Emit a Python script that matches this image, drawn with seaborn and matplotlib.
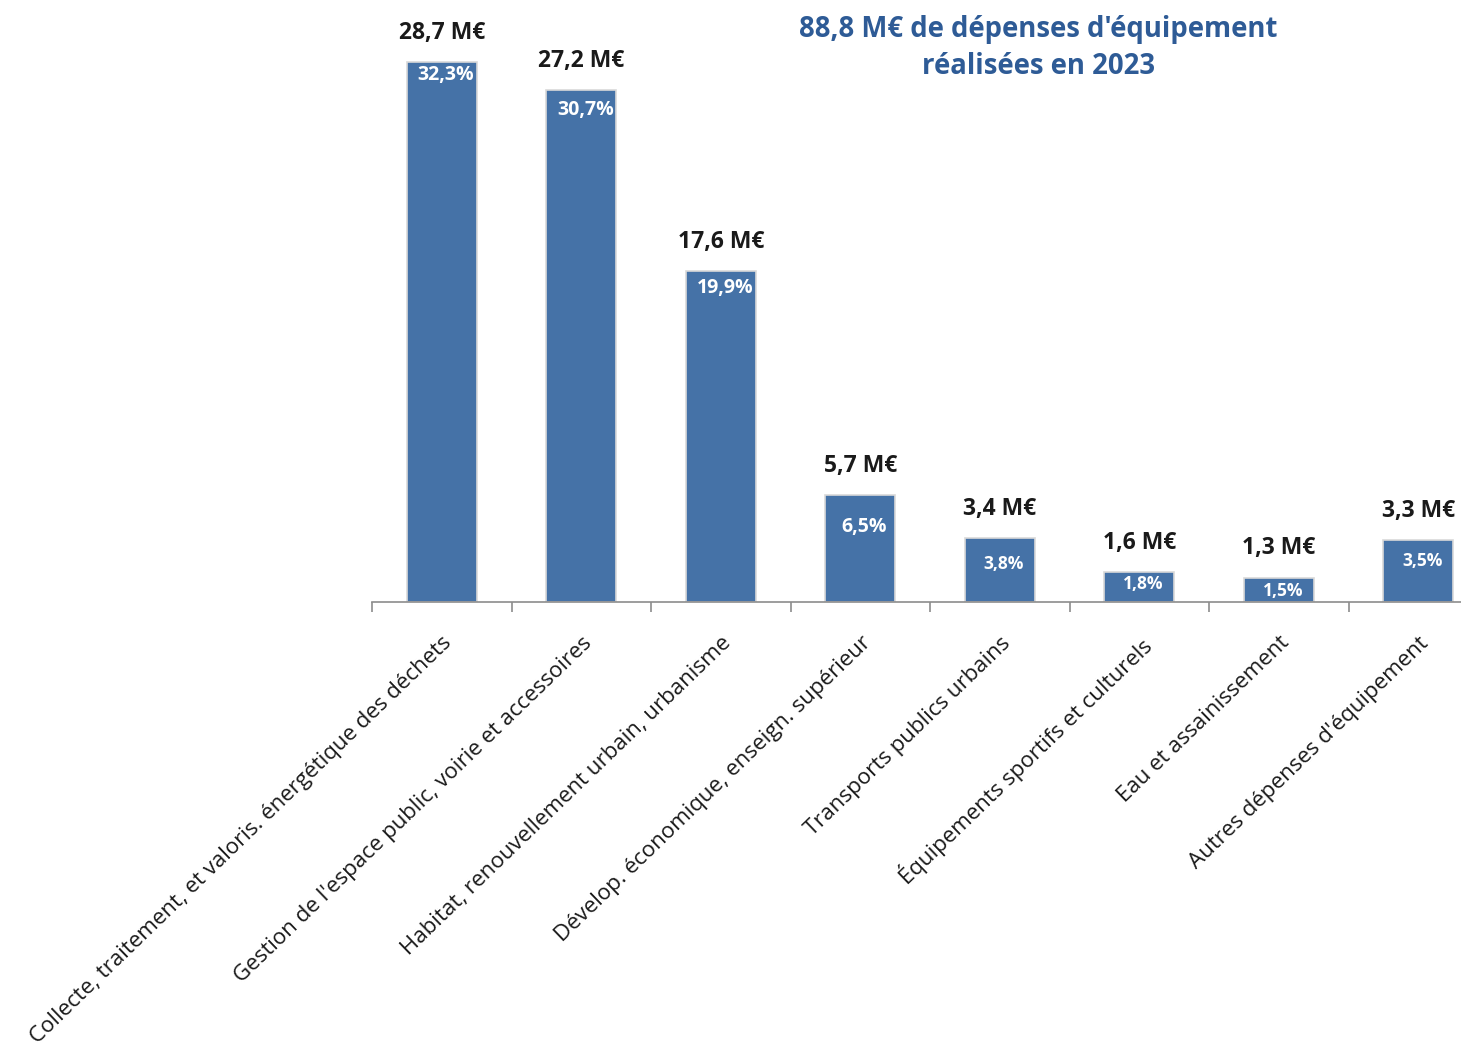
import pandas as pd
import matplotlib
matplotlib.use("Agg")
import matplotlib.pyplot as plt
import seaborn as sns

# data
categories = [
    "Collecte, traitement, et valoris. énergétique des déchets",
    "Gestion de l'espace public, voirie et accessoires",
    "Habitat, renouvellement urbain, urbanisme",
    "Dévelop. économique, enseign. supérieur",
    "Transports publics urbains",
    "Équipements sportifs et culturels",
    "Eau et assainissement",
    "Autres dépenses d'équipement",
]
montants = [28.7, 27.2, 17.6, 5.7, 3.4, 1.6, 1.3, 3.3]
montant_labels = ["28,7 M€", "27,2 M€", "17,6 M€", "5,7 M€", "3,4 M€", "1,6 M€", "1,3 M€", "3,3 M€"]
pct_labels = ["32,3%", "30,7%", "19,9%", "6,5%", "3,8%", "1,8%", "1,5%", "3,5%"]

df = pd.DataFrame({"cat": categories, "val": montants})

sns.set_style("white")
plt.rcParams["font.family"] = ["Open Sans", "DejaVu Sans"]

fig = plt.figure(figsize=(14.61, 10.59), dpi=100)
ax = fig.add_axes([372 / 1461, 1 - 602 / 1059, (1488 - 372) / 1461, 602 / 1059])

bar_color = "#4572a7"
sns.barplot(data=df, x="cat", y="val", order=categories, color=bar_color,
            width=0.5, saturation=1, edgecolor="#d9d9d9", linewidth=1.2, ax=ax)

ax.set_xlim(-0.5, len(categories) - 0.5)
ax.set_ylim(0, 32.0)

# how far below the bar top each percentage sits (points), as in the original
pct_drop = [9.5, 14, 12, 23, 19, 9, 10, 15]

for i, (v, ml, pl) in enumerate(zip(montants, montant_labels, pct_labels)):
    ax.annotate(ml, (i, v), xytext=(0, 21), textcoords="offset points",
                ha="center", va="center", fontsize=16.5, fontweight="bold", color="#1a1a1a")
    fs = 14 if v > 5 else 12.5
    ax.annotate(pl, (i, v), xytext=(3, -pct_drop[i]), textcoords="offset points",
                ha="center", va="center", fontsize=fs, fontweight="bold", color="white")

# axes styling
for s in ["top", "right", "left"]:
    ax.spines[s].set_visible(False)
ax.spines["bottom"].set_color("#8c8c8c")
ax.spines["bottom"].set_linewidth(1.2)
ax.set_yticks([])
ax.set_xlabel("")
ax.set_ylabel("")

ax.set_xticks(range(len(categories)))
ax.set_xticklabels(categories, rotation=44, ha="right", rotation_mode="anchor",
                   fontsize=16, color="#1a1a1a")
ax.tick_params(axis="x", which="major", length=0, pad=22)
ax.set_xticks([i - 0.5 for i in range(len(categories) + 1)], minor=True)
ax.tick_params(axis="x", which="minor", bottom=True, length=7, width=1.2,
               color="#8c8c8c", direction="out")

fig.text(1038 / 1461, 1 - 48 / 1059,
         "88,8 M€ de dépenses d'équipement\nréalisées en 2023",
         ha="center", va="center", fontsize=19.8, fontweight="bold",
         color="#2e5b96", linespacing=1.35)

fig.savefig("out.png", dpi=100)
